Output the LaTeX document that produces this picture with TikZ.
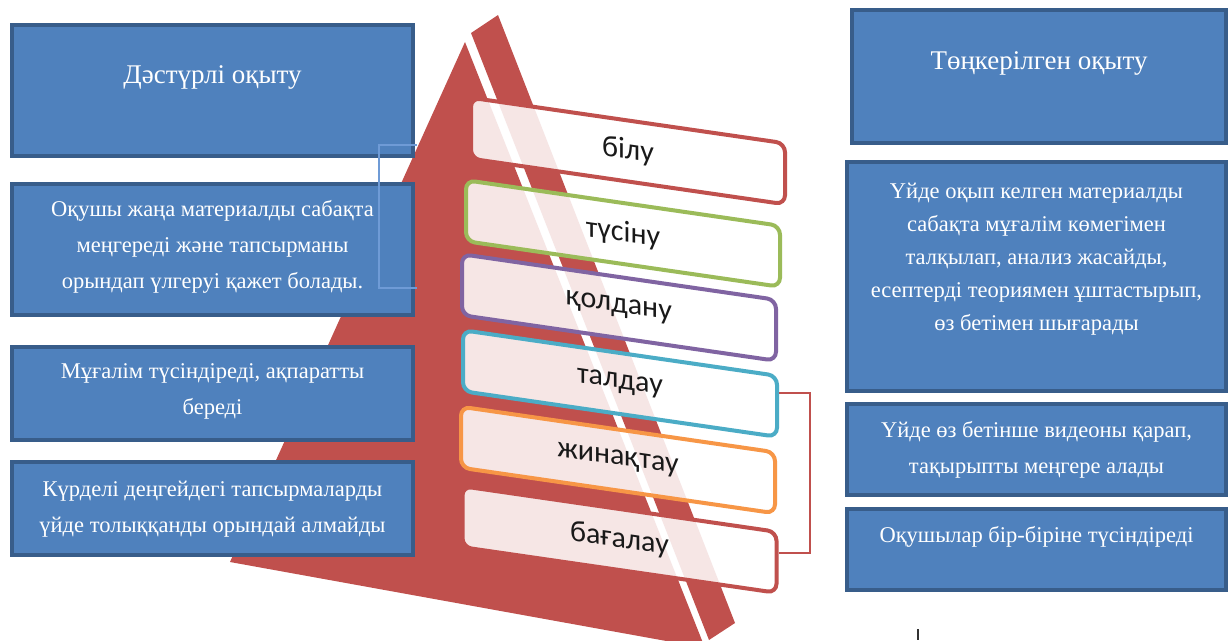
\documentclass[tikz,border=0pt]{standalone}
\usepackage{fontspec}
\setmainfont{Liberation Serif}
\newfontfamily\boxfont{Carlito}
\usetikzlibrary{calc}
\definecolor{pyr}{HTML}{C0504D}
\definecolor{bfill}{HTML}{4F81BD}
\definecolor{bdraw}{HTML}{385D8A}
\definecolor{cgreen}{HTML}{9BBB59}
\definecolor{cpurple}{HTML}{8064A2}
\definecolor{ccyan}{HTML}{4BACC6}
\definecolor{corange}{HTML}{F79646}
\definecolor{thinblue}{HTML}{6F9BD6}
\begin{document}
\begin{tikzpicture}[x=1pt,y=-1pt,
  bluebox/.style={draw=bdraw, line width=4pt, fill=bfill, inner sep=0pt},
  wtxt/.style={text=white, align=center, inner sep=0pt, font=\fontsize{22.5}{36}\selectfont},
  ttl/.style={text=white, align=center, inner sep=0pt, font=\fontsize{27}{30}\selectfont},
  pbox/.style={draw=#1, line width=4pt, rounded corners=9pt, fill=white, fill opacity=0.86,
    text opacity=1, minimum width=314, minimum height=61, inner sep=0pt,
    font=\boxfont\fontsize{30}{32}\selectfont, text=black!90},
  bline/.style={draw=thinblue, line width=1.2pt},
  rline/.style={draw=pyr, line width=1.5pt}]
\clip (0,0) rectangle (1229,640);
\fill[white] (0,0) rectangle (1229,640);
% pyramid
\fill[pyr] (230,562) -- (465,42) -- (705,648) -- cycle;
\fill[pyr] (471,33) -- (498,15) -- (735,623) -- (709,640) -- cycle;
% pyramid boxes
\begin{scope}[shift={(628,151)},yslant=-0.145]
  \node[pbox=pyr,transform shape] (b1) {білу};
\end{scope}
\begin{scope}[shift={(623,233.5)},yslant=-0.145]
  \node[pbox=cgreen,transform shape] (b2) {түсіну};
\end{scope}
\begin{scope}[shift={(619,307.5)},yslant=-0.145]
  \node[pbox=cpurple,transform shape] (b3) {қолдану};
\end{scope}
\begin{scope}[shift={(620,383.5)},yslant=-0.145]
  \node[pbox=ccyan,transform shape] (b4) {талдау};
\end{scope}
\begin{scope}[shift={(618,460)},yslant=-0.145]
  \node[pbox=corange,transform shape] (b5) {жинақтау};
\end{scope}
\begin{scope}[shift={(619.5,539.5)},yslant=-0.145]
  \node[pbox=pyr,transform shape] (b6) {бағалау};
\end{scope}
% right bracket
\draw[rline] ([yshift=13.6pt]b4.east) -- ++(31,0) |- ([yshift=9.6pt]b6.east);
% left boxes
\node[bluebox, minimum width=401, minimum height=131] (L1) at (212.5,90.5) {};
\node[ttl] (L1t) at (212.5,77) {Дәстүрлі оқыту};
\node[bluebox, minimum width=401, minimum height=131] (L2) at (212.5,249.5) {};
\node[wtxt] (L2t) at (212.5,247) {Оқушы жаңа материалды сабақта\\меңгереді және тапсырманы\\орындап үлгеруі қажет болады.};
\node[bluebox, minimum width=401, minimum height=93] (L3) at (212.5,393.5) {};
\node[wtxt] (L3t) at (212.5,391.5) {Мұғалім түсіндіреді, ақпаратты\\береді};
\node[bluebox, minimum width=401, minimum height=93] (L4) at (212.5,508.5) {};
\node[wtxt] (L4t) at (212.5,509.5) {Күрделі деңгейдегі тапсырмаларды\\үйде толыққанды орындай алмайды};
% left thin connector
\draw[bline] ($(L1.south east)+(2,-13)$) -| ($(L2.north east)+(-36,106)$) -- ($(L2.north east)+(2,106)$);
% right boxes
\node[bluebox, minimum width=374, minimum height=133] (R1) at (1039,76.5) {};
\node[ttl] (R1t) at (1039,63) {Төңкерілген оқыту};
\node[bluebox, minimum width=379, minimum height=229] (R2) at (1036.5,276.5) {};
\node[wtxt, font=\fontsize{22.5}{33}\selectfont] (R2t) at (1036.5,259) {Үйде оқып келген материалды\\сабақта мұғалім көмегімен\\талқылап, анализ жасайды,\\есептерді теориямен ұштастырып,\\өз бетімен шығарады};
\node[bluebox, minimum width=379, minimum height=91] (R3) at (1036.5,449.5) {};
\node[wtxt] (R3t) at (1036.5,450) {Үйде өз бетінше видеоны қарап,\\тақырыпты меңгере алады};
\node[bluebox, minimum width=379, minimum height=81] (R4) at (1036.5,549.5) {};
\node[wtxt] (R4t) at (1036.5,537) {Оқушылар бір-біріне түсіндіреді};
% bottom tick
\coordinate (t1) at (918,629);
\coordinate (t2) at (918,640);
\draw[line width=1.8pt, black!80] (t1) -- (t2);
\end{tikzpicture}
\end{document}
